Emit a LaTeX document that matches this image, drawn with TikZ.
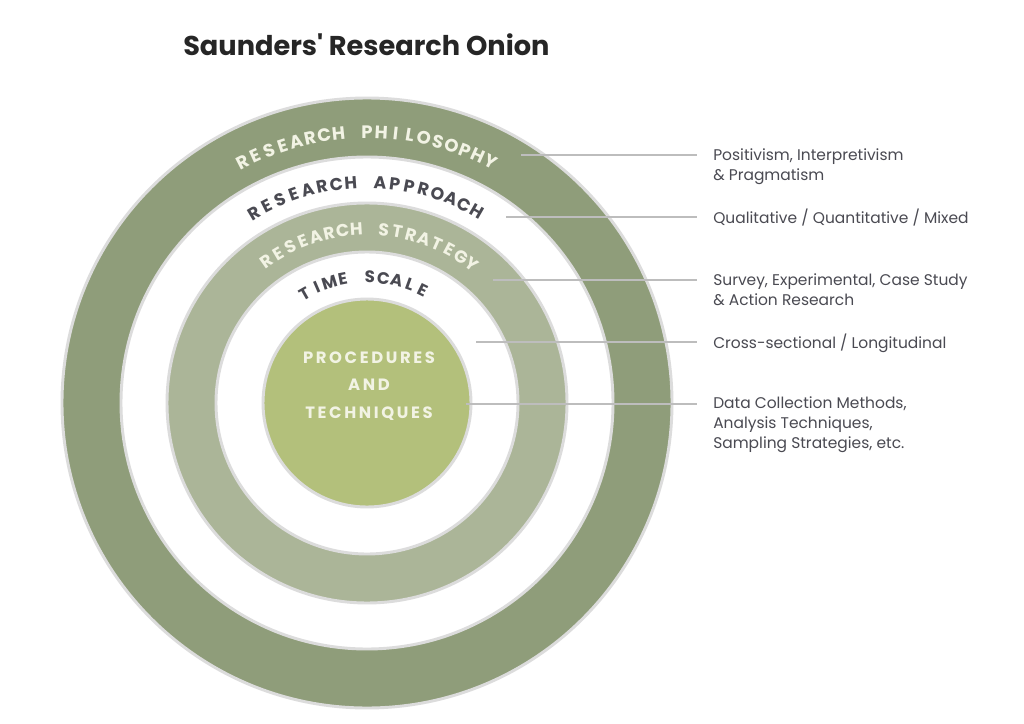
\documentclass[tikz,border=0pt]{standalone}
\usepackage{fontspec}
\setmainfont{Poppins}
\definecolor{darkring}{HTML}{8F9D7A}
\definecolor{lightring}{HTML}{ABB598}
\definecolor{core}{HTML}{B3C07B}
\definecolor{edge}{HTML}{DCDCDC}
\definecolor{txt}{HTML}{4A4A52}
\definecolor{pale}{HTML}{F2F3E4}
\definecolor{leader}{HTML}{BDBDBD}
\newcommand{\rt}[7]{\foreach \c [count=\i] in {#6} {
    \pgfmathsetmacro{\ang}{#2+(#7-1)/2*#3-(\i-1)*#3}
    \node[text=#5,font=\fontsize{#4}{#4}\selectfont\bfseries,rotate=\ang-90,inner sep=0] at ({367+#1*cos(\ang)},{403-#1*sin(\ang)}) {\c};}}
\begin{document}
\begin{tikzpicture}[x=0.75pt,y=-0.75pt,
  ring/.style={draw=edge,line width=2.2pt},
  lab/.style={anchor=west,text=txt,font=\fontsize{11.6}{15}\selectfont,align=left,inner sep=0},
  lead/.style={draw=leader,line width=1pt}]
\useasboundingbox (0,0) rectangle (1024,724);
\fill[white] (0,0) rectangle (1024,724);
\node[font=\fontsize{20.4}{24}\selectfont\bfseries,text=black!85,anchor=west,inner sep=0] (title) at (183,45) {Saunders\textquotesingle{} Research Onion};
% rings
\fill[darkring,ring] (367,403) circle[radius=305];
\fill[white,ring] (367,403) circle[radius=246];
\fill[lightring,ring] (367,403) circle[radius=200];
\fill[white,ring] (367,403) circle[radius=151];
\fill[core,ring] (367,403) circle[radius=104];
% ring labels
\rt{271}{90}{3.03}{13.5}{pale}{R,E,S,E,A,R,C,H,{},P,H,I,L,O,S,O,P,H,Y}{19}
\rt{221}{90.4}{3.8}{13}{txt}{R,E,S,E,A,R,C,H,{},A,P,P,R,O,A,C,H}{17}
\rt{174}{89}{4.53}{13}{pale}{R,E,S,E,A,R,C,H,{},S,T,R,A,T,E,G,Y}{17}
\rt{126}{91.8}{6.2}{12.5}{txt}{T,I,M,E,{},S,C,A,L,E}{10}
\node[text=pale,font=\fontsize{12.3}{20.5}\selectfont\bfseries\addfontfeature{LetterSpace=16},align=center] (core) at (369,386) {PROCEDURES\\AND\\TECHNIQUES};
% labels and leaders
\node[lab] (l1) at (713,167) {Positivism, Interpretivism\\\& Pragmatism};
\node[lab] (l2) at (713,218) {Qualitative / Quantitative / Mixed};
\node[lab] (l3) at (713,290) {Survey, Experimental, Case Study\\\& Action Research};
\node[lab] (l4) at (713,343) {Cross-sectional / Longitudinal};
\node[lab] (l5) at (713,425) {Data Collection Methods,\\Analysis Techniques,\\Sampling Strategies, etc.};
\coordinate (a1) at (521,155); \coordinate (b1) at (697,155);
\coordinate (a2) at (506,217); \coordinate (b2) at (697,217);
\coordinate (a3) at (493,280); \coordinate (b3) at (697,280);
\coordinate (a4) at (476,342); \coordinate (b4) at (697,342);
\coordinate (a5) at (466,404); \coordinate (b5) at (697,404);
\foreach \k in {1,...,5} \draw[lead] (a\k) -- (b\k);
\end{tikzpicture}
\end{document}
